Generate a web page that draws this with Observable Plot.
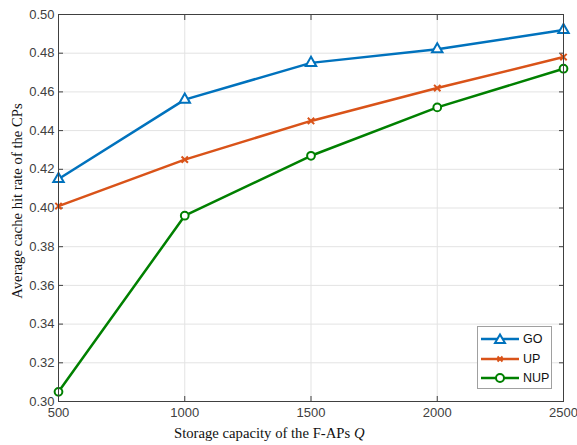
<!DOCTYPE html>
<html><head><meta charset="utf-8">
<script src="https://cdn.jsdelivr.net/npm/d3@7"></script>
<script src="https://cdn.jsdelivr.net/npm/@observablehq/plot@0.6"></script>
<style>
body{margin:0;background:#fff;}
#wrap{position:relative;width:577px;height:445px;}
.lbl{position:absolute;font-family:"Liberation Serif","Times New Roman",serif;font-size:14.7px;color:#111;white-space:nowrap;}
#legend{position:absolute;left:477px;top:326px;width:75px;height:63px;border:1px solid #a0a0a0;background:#fff;box-sizing:border-box;font-family:"Liberation Sans",Arial,sans-serif;font-size:12.5px;color:#111;}
#legend .row{position:absolute;left:2px;height:16px;display:flex;align-items:center;}
#legend svg{margin-right:3px;}
</style></head>
<body><div id="wrap"></div>
<script>
const capacities = [500, 1000, 1500, 2000, 2500];
const seriesNames = ["GO", "UP", "NUP"];
const goValues  = [0.415, 0.456, 0.475, 0.482, 0.492];
const upValues  = [0.401, 0.425, 0.445, 0.462, 0.478];
const nupValues = [0.305, 0.396, 0.427, 0.452, 0.472];
const xTicks = [500, 1000, 1500, 2000, 2500];
const yTicks = [0.30, 0.32, 0.34, 0.36, 0.38, 0.40, 0.42, 0.44, 0.46, 0.48, 0.50];
const colors = {GO: "#0072BD", UP: "#D95319", NUP: "#008000"};
const symbols = {GO: "triangle", UP: "times", NUP: "circle"};

const rows = [];
[goValues, upValues, nupValues].forEach((vals, i) => {
  vals.forEach((v, j) => rows.push({series: seriesNames[i], x: capacities[j], y: v}));
});

const axisFont = {fontSize: 13, fill: "#404040"};
const chart = Plot.plot({
  width: 577, height: 445,
  marginLeft: 58, marginRight: 14, marginTop: 14, marginBottom: 44,
  style: {fontFamily: "'Liberation Sans', Arial, sans-serif", fontSize: "13px", color: "#404040", background: "#fff", overflow: "visible"},
  x: {domain: [500, 2500], ticks: xTicks},
  y: {domain: [0.30, 0.50], ticks: yTicks},
  marks: [
    Plot.gridX(xTicks, {stroke: "#e3e3e3", strokeOpacity: 1}),
    Plot.gridY(yTicks, {stroke: "#e3e3e3", strokeOpacity: 1}),
    Plot.axisX(xTicks, {anchor: "bottom", tickSize: 0, tickPadding: 6, label: null, ...axisFont, tickFormat: d => String(d)}),
    Plot.axisY(yTicks, {anchor: "left", tickSize: 0, tickPadding: 4, label: null, ...axisFont, tickFormat: d3.format(".2f")}),
    Plot.axisX(xTicks, {anchor: "bottom", tickSize: -5, text: null, label: null, stroke: "#404040"}),
    Plot.axisX(xTicks, {anchor: "top", tickSize: -5, text: null, label: null, stroke: "#404040"}),
    Plot.axisY(yTicks, {anchor: "left", tickSize: -5, text: null, label: null, stroke: "#404040"}),
    Plot.axisY(yTicks, {anchor: "right", tickSize: -5, text: null, label: null, stroke: "#404040"}),
    Plot.line(rows, {x: "x", y: "y", z: "series", stroke: d => colors[d.series], strokeWidth: 2.5}),
    Plot.dot(rows, {x: "x", y: "y", symbol: d => symbols[d.series], stroke: d => colors[d.series], fill: "#fff", fillOpacity: d => d.series === "UP" ? 0 : 1, r: d => d.series === "UP" ? 3 : 5, strokeWidth: 2}),
    Plot.frame({stroke: "#404040", strokeWidth: 1})
  ]
});
const wrap = document.getElementById("wrap");
wrap.appendChild(chart);

const xl = document.createElement("div");
xl.className = "lbl";
xl.innerHTML = 'Storage capacity of the F-APs <i>Q</i>';
xl.style.left = "174px"; xl.style.top = "425px";
wrap.appendChild(xl);

const yl = document.createElement("div");
yl.className = "lbl";
yl.textContent = "Average cache hit rate of the CPs";
yl.style.left = "17px"; yl.style.top = "201px";
yl.style.transform = "translate(-50%,-50%) rotate(-90deg)";
wrap.appendChild(yl);

const lg = document.createElement("div");
lg.id = "legend";
const sym = {
  GO: '<path d="M20,2.5 L25,11 L15,11 Z" fill="#fff" stroke="#0072BD" stroke-width="2"/>',
  UP: '<path d="M17.5,4.5 L22.5,9.5 M22.5,4.5 L17.5,9.5" stroke="#D95319" stroke-width="2"/>',
  NUP: '<circle cx="20" cy="7" r="4" fill="#fff" stroke="#008000" stroke-width="2"/>'
};
seriesNames.forEach((s, i) => {
  const r = document.createElement("div");
  r.className = "row";
  r.style.top = (4 + i * 19.5) + "px";
  r.innerHTML = `<svg width="40" height="14"><line x1="1" y1="7" x2="39" y2="7" stroke="${colors[s]}" stroke-width="2.5"/>${sym[s]}</svg><span>${s}</span>`;
  lg.appendChild(r);
});
wrap.appendChild(lg);
</script></body></html>
